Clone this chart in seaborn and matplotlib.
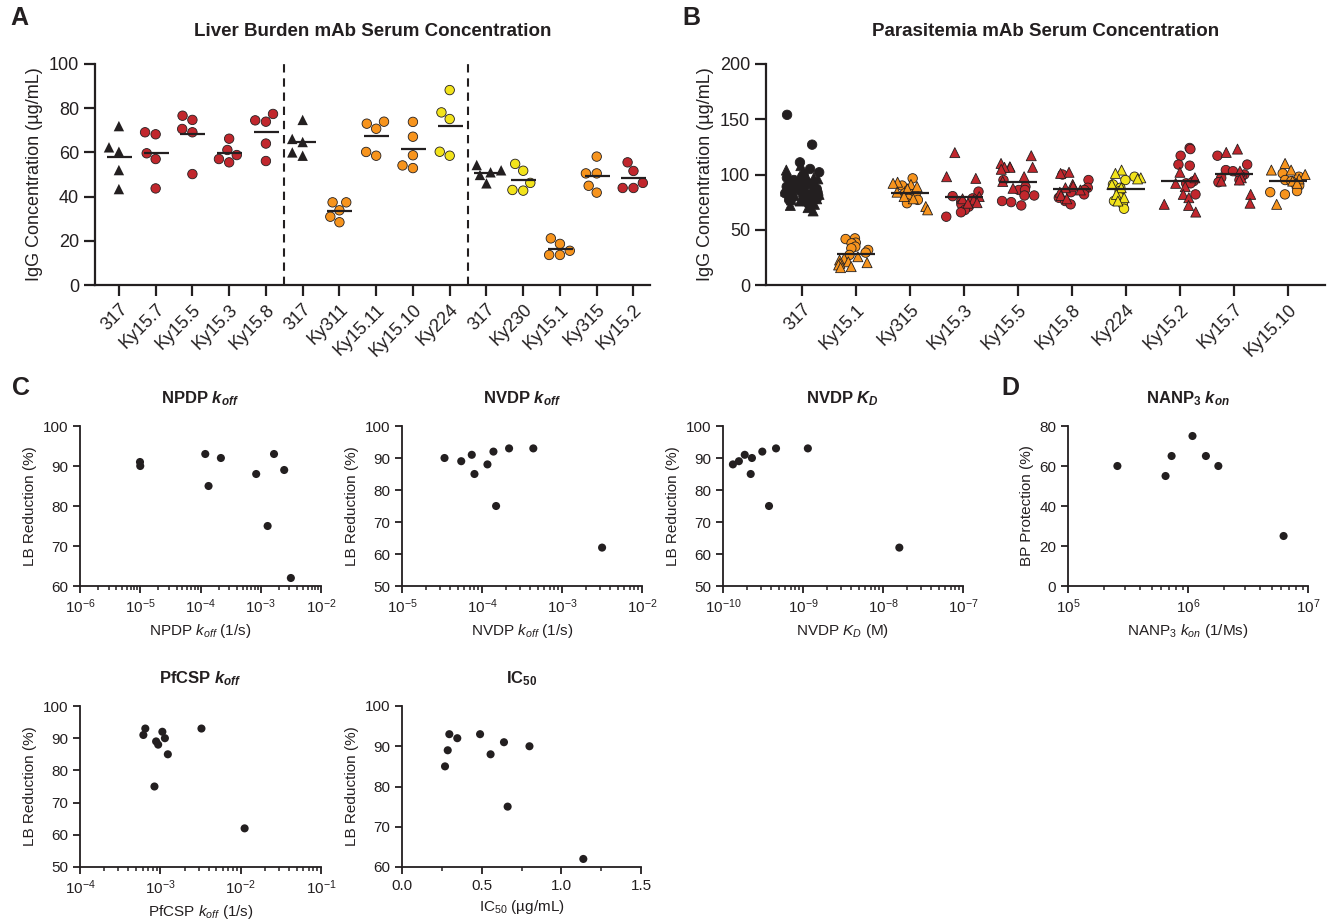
import numpy as np
import pandas as pd
import matplotlib
matplotlib.use("Agg")
import matplotlib.pyplot as plt
from matplotlib.ticker import LogLocator, NullFormatter, MultipleLocator, FixedLocator
import seaborn as sns

# ---------------- Panel A data (Liver burden serum conc., ug/mL) ----------------
A_keys = ["317a", "Ky15.7", "Ky15.5", "Ky15.3", "Ky15.8", "317b", "Ky311", "Ky15.11",
          "Ky15.10", "Ky224", "317c", "Ky230", "Ky15.1", "Ky315", "Ky15.2"]
A_labels = ["317", "Ky15.7", "Ky15.5", "Ky15.3", "Ky15.8", "317", "Ky311", "Ky15.11",
            "Ky15.10", "Ky224", "317", "Ky230", "Ky15.1", "Ky315", "Ky15.2"]
A_colors = ["black", "red", "red", "red", "red", "black", "orange", "orange",
            "orange", "yellow", "black", "yellow", "orange", "orange", "red"]
a_317_1 = [71.9, 62.3, 60.3, 52.0, 43.4]
a_ky15_7 = [69.1, 68.2, 59.6, 57.0, 43.7]
a_ky15_5 = [76.6, 74.7, 70.6, 69.1, 50.2]
a_ky15_3 = [66.2, 61.1, 58.8, 57.0, 55.5]
a_ky15_8 = [77.4, 74.5, 73.9, 64.0, 56.1]
a_317_2 = [74.7, 66.1, 64.7, 60.0, 58.5]
a_ky311 = [37.4, 37.4, 33.8, 30.9, 28.4]
a_ky15_11 = [73.9, 73.0, 70.7, 60.2, 58.5]
a_ky15_10 = [73.8, 67.1, 58.7, 54.1, 52.9]
a_ky224 = [88.2, 78.1, 75.1, 60.3, 58.5]
a_317_3 = [54.3, 51.9, 51.0, 49.8, 46.0]
a_ky230 = [54.8, 51.7, 46.2, 43.0, 42.7]
a_ky15_1 = [21.1, 18.6, 15.5, 13.6, 13.6]
a_ky315 = [58.1, 50.5, 50.5, 44.9, 41.8]
a_ky15_2 = [55.5, 51.6, 46.2, 43.9, 43.9]
A_values = [a_317_1, a_ky15_7, a_ky15_5, a_ky15_3, a_ky15_8, a_317_2, a_ky311, a_ky15_11,
            a_ky15_10, a_ky224, a_317_3, a_ky230, a_ky15_1, a_ky315, a_ky15_2]

# ---------------- Panel B data (Parasitemia serum conc., ug/mL) ----------------
B_keys = ["317", "Ky15.1", "Ky315", "Ky15.3", "Ky15.5", "Ky15.8", "Ky224", "Ky15.2", "Ky15.7", "Ky15.10"]
B_colors = ["black", "orange", "orange", "red", "red", "red", "yellow", "red", "red", "orange"]
b_317_circ = [154, 127, 111, 105, 102, 100, 98, 97, 95, 94, 92, 91, 90, 89, 88, 87, 86, 85, 84,
              83, 82, 81, 80, 79, 78, 77, 76, 75, 74]
b_317_tri = [108, 104, 101, 99, 97, 96, 94, 93, 92, 91, 90, 89, 88, 87, 86, 85, 84, 83, 82,
             81, 80, 79, 78, 77, 76, 75, 73, 72, 70, 67]
b_ky15_1_circ = [42.2, 41.6, 38.3, 37.7, 34.7, 33.2, 31.7, 29.3, 27.2]
b_ky15_1_tri = [25.6, 24.1, 22.6, 21.0, 20.2, 19.6, 18.1, 16.6, 15.7]
b_ky315_circ = [96.5, 90, 86, 83, 81, 80, 78, 77, 74]
b_ky315_tri = [93, 92, 91, 89, 87, 84, 80, 78, 71, 68]
b_ky15_3_circ = [84.5, 80.4, 78.4, 75.4, 73, 70.9, 67.9, 65.8, 61.8]
b_ky15_3_tri = [119.8, 98, 96.5, 80, 78, 77, 74.5, 74]
b_ky15_5_circ = [95, 89, 86, 86, 81, 81, 76, 75, 72]
b_ky15_5_tri = [117, 110, 107, 106.5, 106.5, 106.5, 104.7, 98, 93.7, 87.5]
b_ky15_8_circ = [100, 95, 88, 86, 84, 82, 79, 76, 73]
b_ky15_8_tri = [102, 101, 91, 89.5, 88, 86, 84, 81, 78]
b_ky224_circ = [98, 95, 91, 88, 85, 80, 76, 73, 69]
b_ky224_tri = [104, 101, 97, 96, 91, 88, 82, 79, 76]
b_ky15_2_circ = [124, 123, 117, 109, 108, 94, 92, 92, 82]
b_ky15_2_tri = [102, 97, 92, 89, 82, 79, 73, 72, 66]
b_ky15_7_circ = [117, 109, 104, 103, 100, 98, 97, 95, 93]
b_ky15_7_tri = [123, 120, 103, 97, 95, 94, 82, 74]
b_ky15_10_circ = [101, 98, 95, 94, 91, 90, 85, 84, 82]
b_ky15_10_tri = [110, 104, 104, 100, 96, 94, 92, 73]
B_circ = [b_317_circ, b_ky15_1_circ, b_ky315_circ, b_ky15_3_circ, b_ky15_5_circ,
          b_ky15_8_circ, b_ky224_circ, b_ky15_2_circ, b_ky15_7_circ, b_ky15_10_circ]
B_tri = [b_317_tri, b_ky15_1_tri, b_ky315_tri, b_ky15_3_tri, b_ky15_5_tri,
         b_ky15_8_tri, b_ky224_tri, b_ky15_2_tri, b_ky15_7_tri, b_ky15_10_tri]

# ---------------- Panel C / D correlation data ----------------
npdp_koff = [9.9e-6, 1.0e-5, 1.2e-4, 1.36e-4, 2.18e-4, 8.4e-4, 1.3e-3, 1.66e-3, 2.45e-3, 3.16e-3]
npdp_lb = [91, 90, 93, 85, 92, 88, 75, 93, 89, 62]
nvdp_koff = [3.4e-5, 5.5e-5, 7.45e-5, 8.05e-5, 1.17e-4, 1.39e-4, 1.5e-4, 2.18e-4, 4.38e-4, 3.17e-3]
nvdp_koff_lb = [90, 89, 91, 85, 88, 92, 75, 93, 93, 62]
nvdp_kd = [1.33e-10, 1.58e-10, 1.87e-10, 2.3e-10, 2.22e-10, 3.1e-10, 3.76e-10, 4.6e-10, 1.15e-9, 1.6e-8]
nvdp_kd_lb = [88, 89, 91, 90, 85, 92, 75, 93, 93, 62]
pfcsp_koff = [6.15e-4, 6.5e-4, 8.86e-4, 9.4e-4, 8.45e-4, 1.06e-3, 1.14e-3, 1.24e-3, 3.25e-3, 1.12e-2]
pfcsp_lb = [91, 93, 89, 88, 75, 92, 90, 85, 93, 62]
ic50 = [0.27, 0.287, 0.297, 0.347, 0.49, 0.556, 0.64, 0.663, 0.80, 1.138]
ic50_lb = [85, 89, 93, 92, 93, 88, 91, 75, 90, 62]
nanp_kon = [2.58e5, 6.5e5, 7.3e5, 1.09e6, 1.41e6, 1.79e6, 6.26e6]
nanp_bp = [60, 55, 65, 75, 65, 60, 25]

# ---------------- style ----------------
DARK = "#231f20"
PAL = {"black": DARK, "red": "#c1272d", "orange": "#f7941d", "yellow": "#f2e31b"}

sns.set_style("ticks")
plt.rcParams["font.family"] = ["Liberation Sans", "DejaVu Sans"]
plt.rcParams["mathtext.fontset"] = "custom"
plt.rcParams["mathtext.rm"] = "Liberation Sans"
plt.rcParams["mathtext.it"] = "Liberation Sans:italic"
plt.rcParams["mathtext.bf"] = "Liberation Sans:bold"
plt.rcParams["mathtext.bfit"] = "Liberation Sans:italic:bold"
plt.rcParams["text.color"] = DARK
plt.rcParams["axes.labelcolor"] = DARK
plt.rcParams["xtick.color"] = DARK
plt.rcParams["ytick.color"] = DARK
plt.rcParams["axes.edgecolor"] = DARK

W, H = 1330, 919
fig = plt.figure(figsize=(W / 100, H / 100), dpi=100)


def px_axes(l, t, r, b):
    return fig.add_axes([l / W, 1 - b / H, (r - l) / W, (b - t) / H])


def style(ax, fs, lw, tl):
    sns.despine(ax=ax)
    for s in ("left", "bottom"):
        ax.spines[s].set_linewidth(lw)
        ax.spines[s].set_color(DARK)
    ax.tick_params(which="major", length=tl, width=lw, labelsize=fs, colors=DARK, direction="out")
    ax.tick_params(which="minor", length=tl * 0.55, width=lw * 0.85, colors=DARK)


# ---------------- Panel A ----------------
axA = px_axes(95, 64, 650, 285)
rows = []
for k, c, vals in zip(A_keys, A_colors, A_values):
    for v in vals:
        rows.append({"key": k, "val": v, "col": c, "mk": "^" if k.startswith("317") else "o"})
dfA = pd.DataFrame(rows)
for mk, sz in [("^", 7.5), ("o", 6.8)]:
    sub = dfA[dfA["mk"] == mk]
    sns.swarmplot(data=sub, x="key", y="val", hue="col", palette=PAL, order=A_keys,
                  marker=mk, size=sz, edgecolor=DARK, linewidth=0.6 if mk == "o" else 0,
                  legend=False, ax=axA, zorder=3)
sns.pointplot(data=dfA, x="key", y="val", order=A_keys, errorbar=None, color=DARK,
              marker="_", markersize=18, markeredgewidth=1.6, linestyle="none", ax=axA, zorder=4)
for xv in (4.5, 9.5):
    axA.axvline(xv, color=DARK, lw=1.5, ls=(0, (4, 2.8)), zorder=1)
axA.set_xlim(-0.65, 14.45)
axA.set_ylim(0, 100)
axA.yaxis.set_major_locator(MultipleLocator(20))
axA.set_xticks(range(len(A_keys)))
axA.set_xticklabels(A_labels, rotation=45, ha="right", rotation_mode="anchor")
axA.set_xlabel("")
axA.set_ylabel("IgG Concentration (µg/mL)", fontsize=13)
axA.set_title("Liver Burden mAb Serum Concentration", fontsize=13.5, fontweight="bold", pad=20)
style(axA, 13, 1.6, 8)

# ---------------- Panel B ----------------
axB = px_axes(766, 64, 1325, 285)
rows = []
for k, c, circ, tri in zip(B_keys, B_colors, B_circ, B_tri):
    for v in circ:
        rows.append({"key": k, "val": v, "col": c, "mk": "o"})
    for v in tri:
        rows.append({"key": k, "val": v, "col": c, "mk": "^"})
dfB = pd.DataFrame(rows)
np.random.seed(7)
for mk, sz in [("o", 6.8), ("^", 7.2)]:
    sub = dfB[dfB["mk"] == mk]
    sns.stripplot(data=sub, x="key", y="val", hue="col", palette=PAL, order=B_keys,
                  marker=mk, size=sz, jitter=0.33, edgecolor=DARK, linewidth=0.6,
                  legend=False, ax=axB, zorder=3)
sns.pointplot(data=dfB, x="key", y="val", order=B_keys, errorbar=None, color=DARK,
              marker="_", markersize=27, markeredgewidth=1.6, linestyle="none", ax=axB, zorder=4)
axB.set_xlim(-0.67, 9.69)
axB.set_ylim(0, 200)
axB.yaxis.set_major_locator(MultipleLocator(50))
axB.set_xticks(range(len(B_keys)))
axB.set_xticklabels(B_keys, rotation=45, ha="right", rotation_mode="anchor")
axB.set_xlabel("")
axB.set_ylabel("IgG Concentration (µg/mL)", fontsize=13)
axB.set_title("Parasitemia mAb Serum Concentration", fontsize=13.5, fontweight="bold", pad=20)
style(axB, 13, 1.6, 8)


# ---------------- Panels C and D ----------------
def corr_panel(box, x, y, xlim, ylim, ystep, title, xlabel, ylabel, logx=True):
    ax = px_axes(*box)
    sns.scatterplot(x=x, y=y, color=DARK, s=34, edgecolor="none", linewidth=0, ax=ax,
                    clip_on=False, zorder=3)
    if logx:
        ax.set_xscale("log")
        lo, hi = int(round(np.log10(xlim[0]))), int(round(np.log10(xlim[1])))
        ax.xaxis.set_major_locator(FixedLocator([10.0 ** e for e in range(lo, hi + 1)]))
        ax.xaxis.set_minor_locator(FixedLocator([m * 10.0 ** e for e in range(lo, hi)
                                                 for m in range(2, 10)]))
        ax.xaxis.set_minor_formatter(NullFormatter())
    else:
        ax.xaxis.set_major_locator(MultipleLocator(0.5))
        ax.xaxis.set_minor_locator(MultipleLocator(0.25))
    ax.set_xlim(*xlim)
    ax.set_ylim(*ylim)
    ax.yaxis.set_major_locator(MultipleLocator(ystep))
    ax.set_title(title, fontsize=12, fontweight="bold", pad=16)
    ax.set_xlabel(xlabel, fontsize=11)
    ax.set_ylabel(ylabel, fontsize=11)
    style(ax, 11, 1.3, 5)
    return ax


corr_panel((80, 426, 321, 586), npdp_koff, npdp_lb, (1e-6, 1e-2), (60, 100), 10,
           r"NPDP $\mathbfit{k}_{\mathbfit{off}}$", r"NPDP $\mathit{k}_{\mathit{off}}$ (1/s)",
           "LB Reduction (%)")
corr_panel((402, 426, 642, 586), nvdp_koff, nvdp_koff_lb, (1e-5, 1e-2), (50, 100), 10,
           r"NVDP $\mathbfit{k}_{\mathbfit{off}}$", r"NVDP $\mathit{k}_{\mathit{off}}$ (1/s)",
           "LB Reduction (%)")
corr_panel((723, 426, 963, 586), nvdp_kd, nvdp_kd_lb, (1e-10, 1e-7), (50, 100), 10,
           r"NVDP $\mathbfit{K}_{\mathbfit{D}}$", r"NVDP $\mathit{K}_{\mathit{D}}$ (M)",
           "LB Reduction (%)")
corr_panel((1068, 426, 1308, 586), nanp_kon, nanp_bp, (1e5, 1e7), (0, 80), 20,
           r"NANP$_{\mathbf{3}}$ $\mathbfit{k}_{\mathbfit{on}}$", r"NANP$_{3}$ $\mathit{k}_{\mathit{on}}$ (1/Ms)",
           "BP Protection (%)")
corr_panel((80, 706, 321, 867), pfcsp_koff, pfcsp_lb, (1e-4, 1e-1), (50, 100), 10,
           r"PfCSP $\mathbfit{k}_{\mathbfit{off}}$", r"PfCSP $\mathit{k}_{\mathit{off}}$ (1/s)",
           "LB Reduction (%)")
corr_panel((402, 706, 641, 867), ic50, ic50_lb, (0, 1.5), (60, 100), 10,
           r"IC$_{\mathbf{50}}$", r"IC$_{50}$ (µg/mL)", "LB Reduction (%)", logx=False)

# panel letters
for lbl, xp, yp in [("A", 10, 6), ("B", 682, 6), ("C", 12, 376), ("D", 1001, 376)]:
    fig.text(xp / W, 1 - yp / H, lbl, fontsize=18, fontweight="bold", ha="left", va="top")

fig.savefig("out.png", dpi=100)
